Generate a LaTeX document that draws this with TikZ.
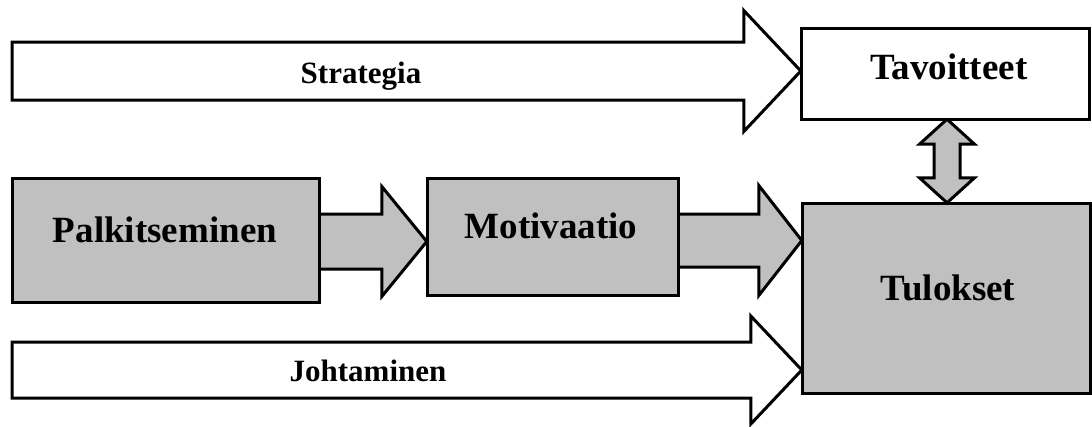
\documentclass[tikz,border=0pt]{standalone}
\usepackage{fontspec}
\setmainfont{Liberation Serif}
\usetikzlibrary{calc}
\definecolor{boxgrey}{RGB}{192,192,192}

% horizontal block arrow: style, tail, tip, shaft half-height, head half-height, head length
\newcommand\blockarrow[6]{%
  \draw[#1] let \p1=(#2), \p2=(#3) in
    (\x1,\y1+#4pt) -- (\x2-#6pt,\y1+#4pt) -- (\x2-#6pt,\y1+#5pt) -- (\x2,\y1)
    -- (\x2-#6pt,\y1-#5pt) -- (\x2-#6pt,\y1-#4pt) -- (\x1,\y1-#4pt) -- cycle;}

\tikzset{
  outline/.style={draw=black, line width=3pt},
  whitearrow/.style={outline, fill=white},
  greyarrow/.style={outline, fill=boxgrey},
  whitebox/.style={outline, fill=white, rectangle, inner sep=0pt, outer sep=0pt},
  greybox/.style={outline, fill=boxgrey, rectangle, inner sep=0pt, outer sep=0pt},
  bigtext/.style={anchor=base, inner sep=0pt, font=\fontsize{37}{40}\selectfont\bfseries},
  smalltext/.style={anchor=base, inner sep=0pt, font=\fontsize{31}{34}\selectfont\bfseries},
}

\begin{document}
\begin{tikzpicture}[x=1pt, y=-1pt]
\useasboundingbox (0,0) rectangle (1092,426);

% boxes (positions only; drawn after the arrows so their borders sit on top)
\path (945,73.5)   node[minimum width=288pt, minimum height=91pt]  (tav) {};
\path (946,298)    node[minimum width=288pt, minimum height=190pt] (tul) {};
\path (165.5,240)  node[minimum width=307pt, minimum height=124pt] (pal) {};
\path (552.5,236.5) node[minimum width=251pt, minimum height=117pt] (mot) {};

\coordinate (str-tail) at (12,71);
\coordinate (joh-tail) at (12,370);
\coordinate (pal-out) at ($(pal.east)+(0,1.5)$);
\coordinate (mot-out) at ($(mot.east)+(0,4)$);

% long white arrows
\blockarrow{whitearrow}{str-tail}{tav.west}{29}{60.5}{57}
\blockarrow{whitearrow}{joh-tail}{tul.west}{28}{54}{51}

% grey arrows along the middle row
\blockarrow{greyarrow}{pal-out}{mot.west}{27.5}{55}{45}
\blockarrow{greyarrow}{mot-out}{tul.west}{26.5}{55}{43}

% two-headed arrow between Tavoitteet and Tulokset
\draw[greyarrow] let \p1=(tav.south), \p2=(tul.north), \n1={\x1+2pt} in
  (\n1,\y1) -- (\n1+27.5pt,\y1-25pt) -- (\n1+13pt,\y1-25pt) -- (\n1+13pt,\y2+25pt)
  -- (\n1+27.5pt,\y2+25pt) -- (\n1,\y2) -- (\n1-27.5pt,\y2+25pt) -- (\n1-13pt,\y2+25pt)
  -- (\n1-13pt,\y1-25pt) -- (\n1-27.5pt,\y1-25pt) -- cycle;

% boxes
\node[whitebox, minimum width=288pt, minimum height=91pt]  at (tav) {};
\node[greybox,  minimum width=288pt, minimum height=190pt] at (tul) {};
\node[greybox,  minimum width=307pt, minimum height=124pt] at (pal) {};
\node[greybox,  minimum width=251pt, minimum height=117pt] at (mot) {};

% labels
\node[bigtext] (tav-label) at ($(tav.center)+(4,5.5)$) {Tavoitteet};
\node[bigtext] (tul-label) at ($(tul.center)+(2,2)$) {Tulokset};
\node[bigtext] (pal-label) at ($(pal.center)+(-0.5,2)$) {Palkitseminen};
\node[bigtext] (mot-label) at ($(mot.center)+(-1.5,1.5)$) {Motivaatio};
\node[smalltext] (str-label) at (361,83) {Strategia};
\node[smalltext] (joh-label) at (368,381) {Johtaminen};
\end{tikzpicture}
\end{document}
